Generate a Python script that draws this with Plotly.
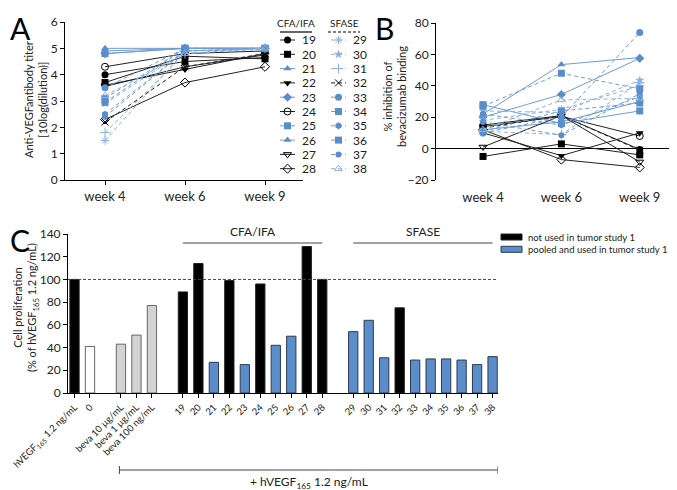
import plotly.graph_objects as go

W, H = 677, 490
OFF = 8  # the page body keeps its default 8 px margin
FONT = "Lato, 'Open Sans', sans-serif"

# ---------------- data ----------------
weeks = ["week 4", "week 6", "week 9"]

serum_ids = [str(i) for i in range(19, 39)]
cfa_ids = serum_ids[:10]
sfase_ids = serum_ids[10:]

# marker / colour per serum (same in panels A and B)
symbols = ["circle", "square", "triangle-up", "triangle-down", "diamond",
           "circle-open", "square", "triangle-up", "triangle-down-open", "diamond-open",
           "asterisk-open", "star", "cross-thin-open", "x-thin-open", "circle",
           "square", "hexagon", "square", "circle", "triangle-up-open"]
tones = ["k", "k", "b", "k", "b", "k", "b", "b", "k", "k",
         "lb", "lb", "lb", "k", "b", "b", "b", "b", "b", "lb"]

# A: anti-VEGF antibody titer (10log dilution) at week 4 / 6 / 9
titer = [
    [4.0, 4.5, 4.65], [3.7, 4.7, 4.6], [4.9, 5.0, 5.0], [3.6, 4.2, 4.8],
    [4.8, 5.0, 5.0], [4.3, 4.8, 4.9], [4.8, 5.0, 5.0], [5.0, 5.0, 5.0],
    [3.55, 4.3, 4.75], [2.3, 3.7, 4.3],
    [1.5, 4.9, 5.0], [2.9, 4.9, 5.0], [1.8, 4.8, 5.0], [2.2, 4.3, 4.8],
    [3.5, 5.0, 5.0], [3.1, 5.0, 5.0], [2.5, 4.9, 5.0], [2.95, 5.0, 5.0],
    [2.4, 4.9, 4.95], [3.2, 4.8, 5.0],
]

# B: % inhibition of bevacizumab binding at week 4 / 6 / 9
inhibition = [
    [15, 21, -0.5], [-5, 3, -4], [22, 53.5, 58], [10, -4.5, 10],
    [20, 34.5, 57.5], [14, 20.5, 8], [28, 16, 24], [12, 17, 30],
    [1, 21, -8.5], [12, -7, -12],
    [18, 25, 40], [24, 23, 43.5], [11, 9, 42], [13, 21, -1],
    [10, 20, 74], [27, 48, 38], [22, 15, 33], [11, 24, 29],
    [17, 8.5, 35], [12, 31, 32],
]

# C: cell proliferation (% of hVEGF165 1.2 ng/mL)
ctrl_labels = ["hVEGF<sub>165</sub> 1.2 ng/mL", "0"]
ctrl_values = [100, 41]
beva_labels = ["beva 10 µg/mL", "beva 1 µg/mL", "beva 100 ng/mL"]
beva_values = [43, 51, 77]
cfa_values = [89, 114, 27, 99, 25, 96, 42, 50, 129, 100]
sfase_values = [54, 64, 31, 75, 29, 30, 30, 29, 25, 32]
not_used_ids = ["19", "20", "22", "24", "27", "28", "32"]
bar_legend = ["not used in tumor study 1", "pooled and used in tumor study 1"]

# ---------------- styling ----------------
BLUE = "#5b8dcb"
LBLUE = "#8cb2e0"
LINE_BLUE = "#6f9cd4"
col_marker = {"k": "black", "b": BLUE, "lb": LBLUE}
col_line = {"k": "#222222", "b": LINE_BLUE, "lb": LBLUE}

FW, FH = W - OFF, H - OFF


def fx(x):
    return (x - OFF) / FW


def fy(y):
    return 1 - (y - OFF) / FH


fig = go.Figure()


def marker_for(i, size):
    sym = symbols[i]
    c = col_marker[tones[i]]
    if sym == "circle" and i == 18:
        size -= 1
    return dict(symbol=sym, size=size, color=c,
                line=dict(width=1 if "open" in sym else 0, color=c))


for i, sid in enumerate(serum_ids):
    dash = "solid" if sid in cfa_ids else "4px,3px"
    lc = col_line[tones[i]]
    fig.add_trace(go.Scatter(x=weeks, y=titer[i], mode="lines+markers", xaxis="x", yaxis="y",
                             line=dict(color=lc, width=1, dash=dash),
                             marker=marker_for(i, 7), name=sid, showlegend=False))
    fig.add_trace(go.Scatter(x=weeks, y=inhibition[i], mode="lines+markers", xaxis="x2", yaxis="y2",
                             line=dict(color=lc, width=1, dash=dash),
                             marker=marker_for(i, 7), name=sid, showlegend=False))

# ---- legend for panels A/B, drawn on a page-sized hidden axis ----
legend_cols = [(cfa_ids, 280), (sfase_ids, 331)]
for col, (ids, x0) in enumerate(legend_cols):
    for r, sid in enumerate(ids):
        i = serum_ids.index(sid)
        yy = 40 + r * 14.3
        dash = "solid" if col == 0 else "4px,3px"
        fig.add_trace(go.Scatter(x=[x0, x0 + 15], y=[yy, yy], mode="lines", xaxis="x4", yaxis="y4",
                                 line=dict(color=col_line[tones[i]], width=1, dash=dash),
                                 showlegend=False, hoverinfo="skip"))
        fig.add_trace(go.Scatter(x=[x0 + 7.5], y=[yy], mode="markers", xaxis="x4", yaxis="y4",
                                 marker=marker_for(i, 7), showlegend=False, hoverinfo="skip"))

annotations = []
shapes = []

for col, (ids, x0) in enumerate(legend_cols):
    for r, sid in enumerate(ids):
        annotations.append(dict(text=sid, x=fx(x0 + 20), y=fy(40 + r * 14.3), xref="paper",
                                yref="paper", xanchor="left", yanchor="middle", showarrow=False,
                                font=dict(size=12, color="#222", family=FONT)))

# ---- panel C bars ----
bar_labels, bar_values, bar_x, bar_fill, bar_edge = [], [], [], [], []
blocks = [(ctrl_labels, ctrl_values), (beva_labels, beva_values),
          (cfa_ids, cfa_values), (sfase_ids, sfase_values)]
pos = 0
for b, (labs, vals) in enumerate(blocks):
    for lab, val in zip(labs, vals):
        bar_labels.append(lab)
        bar_values.append(val)
        bar_x.append(pos)
        if b == 0:
            fill = "black" if val == 100 else "white"
            edge = "#222" if val == 100 else "#666"
        elif b == 1:
            fill, edge = "#d3d3d3", "#666"
        else:
            fill = "black" if lab in not_used_ids else BLUE
            edge = "#222" if lab in not_used_ids else "#2d3a4f"
        bar_fill.append(fill)
        bar_edge.append(edge)
        pos += 1
    pos += 1

fig.add_trace(go.Bar(x=bar_x, y=bar_values, xaxis="x3", yaxis="y3", width=0.6,
                     marker=dict(color=bar_fill, line=dict(color=bar_edge, width=1)),
                     showlegend=False))

axis_common = dict(showline=True, linecolor="black", linewidth=1, ticks="outside",
                   ticklen=4, tickcolor="black", showgrid=False, zeroline=False,
                   automargin=False, tickfont=dict(size=12, color="#222", family=FONT))

# panel letters
for letter, x, y in [("A", 8, 8), ("B", 373, 8), ("C", 8, 220)]:
    annotations.append(dict(text=letter, x=fx(x), y=fy(y), xref="paper", yref="paper",
                            xanchor="left", yanchor="top", showarrow=False,
                            font=dict(size=30, color="black", family=FONT)))

# axis titles
for txt, x, y in [("Anti-VEGFantibody titer<br>[10log(dilution)]", 35, 100),
                  ("% inhibition of<br>bevacizumab binding", 394, 97),
                  ("Cell proliferation<br>(% of hVEGF<sub>165</sub> 1.2 ng/mL)", 26, 308)]:
    annotations.append(dict(text=txt, x=fx(x), y=fy(y), xref="paper", yref="paper",
                            xanchor="center", yanchor="middle", textangle=-90, showarrow=False,
                            font=dict(size=11, color="#222", family=FONT)))

# legend headers (A)
annotations.append(dict(text="CFA/IFA", x=fx(296), y=fy(31), xref="paper", yref="paper",
                        xanchor="center", yanchor="bottom", showarrow=False,
                        font=dict(size=10, color="#222", family=FONT)))
annotations.append(dict(text="SFASE", x=fx(344), y=fy(31), xref="paper", yref="paper",
                        xanchor="center", yanchor="bottom", showarrow=False,
                        font=dict(size=10, color="#222", family=FONT)))
shapes.append(dict(type="line", xref="paper", yref="paper", x0=fx(280), x1=fx(312),
                   y0=fy(32), y1=fy(32), line=dict(color="black", width=1.2)))
shapes.append(dict(type="line", xref="paper", yref="paper", x0=fx(328), x1=fx(360),
                   y0=fy(32), y1=fy(32), line=dict(color="black", width=1.2, dash="3px,2px")))

# panel C: group brackets
cfa_x = bar_x[5:15]
sfase_x = bar_x[15:25]
for name, xs in [("CFA/IFA", cfa_x), ("SFASE", sfase_x)]:
    shapes.append(dict(type="line", xref="x3", yref="paper", x0=xs[0], x1=xs[-1],
                       y0=fy(243), y1=fy(243), line=dict(color="#444", width=1)))
    annotations.append(dict(text=name, x=(xs[0] + xs[-1]) / 2, y=fy(241), xref="x3", yref="paper",
                            xanchor="center", yanchor="bottom", showarrow=False,
                            font=dict(size=12, color="#222", family=FONT)))

# 100 % reference line
shapes.append(dict(type="line", xref="paper", yref="y3", x0=fx(68), x1=fx(498), y0=100, y1=100,
                   line=dict(color="#444", width=1, dash="3px,2px")))

# bottom bracket
bx0, bx1 = bar_x[2] - 0.1, bar_x[-1] + 0.35
shapes.append(dict(type="line", xref="x3", yref="paper", x0=bx0, x1=bx1,
                   y0=fy(470), y1=fy(470), line=dict(color="#444", width=1)))
for bx in (bx0, bx1):
    shapes.append(dict(type="line", xref="x3", yref="paper", x0=bx, x1=bx,
                       y0=fy(466), y1=fy(474), line=dict(color="#444", width=1)))
annotations.append(dict(text="+ hVEGF<sub>165</sub> 1.2 ng/mL", x=(bx0 + bx1) / 2, y=fy(472),
                        xref="x3", yref="paper", xanchor="center", yanchor="top", showarrow=False,
                        font=dict(size=12, color="#222", family=FONT)))

# panel C legend
row_h = 12.3
for r, (fill, edge) in enumerate([("black", "#222"), (BLUE, "#2d3a4f")]):
    yc = 237 + r * row_h
    shapes.append(dict(type="rect", xref="paper", yref="paper", x0=fx(501), x1=fx(522),
                       y0=fy(yc - 3), y1=fy(yc + 3), fillcolor=fill, line=dict(color=edge, width=1)))
annotations.append(dict(text="<br>".join(bar_legend), x=fx(526), y=fy(237 + row_h / 2),
                        xref="paper", yref="paper", xanchor="left", yanchor="middle",
                        align="left", showarrow=False,
                        font=dict(size=9.5, color="#222", family=FONT)))

fig.update_layout(
    template="none",
    width=FW, height=FH, autosize=False,
    margin=dict(l=0, r=0, t=0, b=0, pad=0),
    paper_bgcolor="white", plot_bgcolor="rgba(0,0,0,0)",
    font=dict(family=FONT, color="#222"),
    showlegend=False,
    xaxis=dict(axis_common, domain=[fx(65), fx(303)], anchor="y", type="category",
               range=[-0.5, 2.475], tickfont=dict(size=13, color="#222", family=FONT)),
    yaxis=dict(axis_common, domain=[fy(180), fy(22)], anchor="x", range=[0, 6], dtick=1),
    xaxis2=dict(axis_common, domain=[fx(436), fx(675)], anchor="y2", type="category",
                range=[-0.6, 2.45], showline=False, ticks="", ticklabelstandoff=8,
                tickfont=dict(size=13, color="#222", family=FONT)),
    yaxis2=dict(axis_common, domain=[fy(180), fy(23)], anchor="x2", range=[-20, 80], dtick=20,
                zeroline=True, zerolinecolor="black", zerolinewidth=1),
    xaxis3=dict(axis_common, domain=[fx(68), fx(498)], anchor="y3", range=[-0.42, 27.35],
                tickmode="array", tickvals=bar_x, ticktext=bar_labels, tickangle=-45,
                ticklabeloverflow="allow",
                tickfont=dict(size=9.5, color="#222", family=FONT)),
    yaxis3=dict(axis_common, domain=[fy(393), fy(234)], anchor="x3", range=[0, 140], dtick=20),
    xaxis4=dict(domain=[0, 1], anchor="y4", range=[OFF, W], visible=False, fixedrange=True,
                automargin=False),
    yaxis4=dict(domain=[0, 1], anchor="x4", range=[H, OFF], visible=False, fixedrange=True,
                automargin=False),
    annotations=annotations,
    shapes=shapes,
)

fig.write_html("out.html")
